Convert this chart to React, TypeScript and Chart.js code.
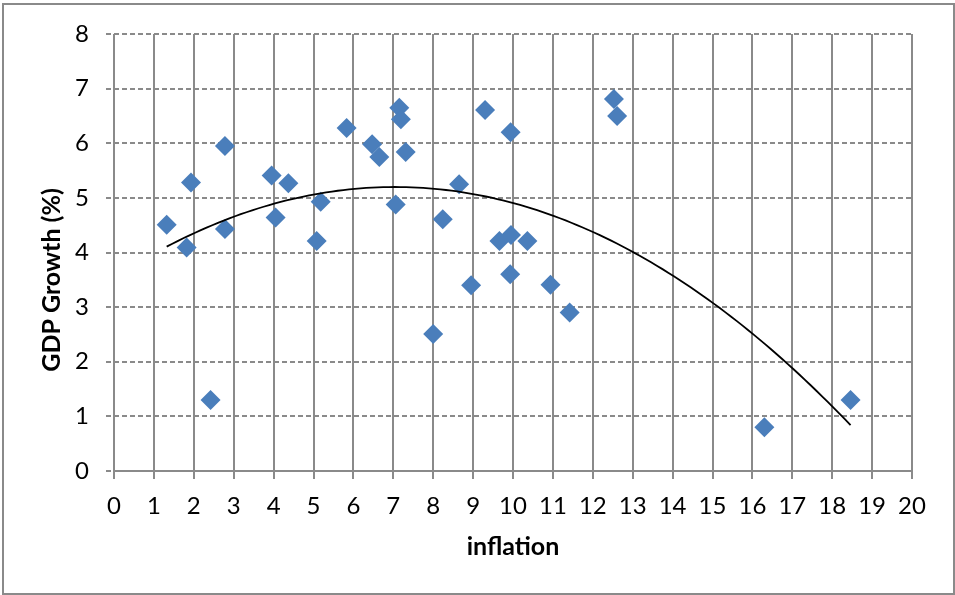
import React, { useEffect, useRef } from 'react';
import { Chart, registerables } from 'chart.js';

Chart.register(...registerables);

// Data
const inflation = [1.32, 1.82, 1.93, 2.42, 2.78, 2.78, 3.95, 4.05, 4.37, 5.08, 5.18, 5.83, 6.47, 6.65, 7.06, 7.15, 7.19, 7.31, 8.0, 8.24, 8.65, 8.95, 9.3, 9.66, 9.93, 9.94, 9.95, 10.36, 10.94, 11.42, 12.53, 12.61, 16.3, 18.46];
const gdpGrowth = [4.51, 4.09, 5.28, 1.3, 5.95, 4.43, 5.41, 4.64, 5.27, 4.21, 4.93, 6.28, 5.98, 5.75, 4.88, 6.65, 6.44, 5.84, 2.51, 4.61, 5.25, 3.4, 6.61, 4.21, 3.6, 6.2, 4.32, 4.21, 3.41, 2.9, 6.81, 6.5, 0.8, 1.3];
const xTickValues = [0, 1, 2, 3, 4, 5, 6, 7, 8, 9, 10, 11, 12, 13, 14, 15, 16, 17, 18, 19, 20];
const yTickValues = [0, 1, 2, 3, 4, 5, 6, 7, 8];
const xTitle = 'inflation';
const yTitle = 'GDP Growth (%)';

// Least-squares polynomial (order 2) trendline, as in the spreadsheet
function polyFit2(xs: number[], ys: number[]) {
  let s0 = 0, s1 = 0, s2 = 0, s3 = 0, s4 = 0, t0 = 0, t1 = 0, t2 = 0;
  for (let i = 0; i < xs.length; i++) {
    const x = xs[i], y = ys[i];
    s0 += 1; s1 += x; s2 += x * x; s3 += x * x * x; s4 += x * x * x * x;
    t0 += y; t1 += x * y; t2 += x * x * y;
  }
  const M = [
    [s0, s1, s2, t0],
    [s1, s2, s3, t1],
    [s2, s3, s4, t2],
  ];
  for (let c = 0; c < 3; c++) {
    let p = c;
    for (let r = c + 1; r < 3; r++) if (Math.abs(M[r][c]) > Math.abs(M[p][c])) p = r;
    [M[c], M[p]] = [M[p], M[c]];
    for (let r = 0; r < 3; r++) {
      if (r === c) continue;
      const f = M[r][c] / M[c][c];
      for (let k = c; k < 4; k++) M[r][k] -= f * M[c][k];
    }
  }
  return [M[0][3] / M[0][0], M[1][3] / M[1][1], M[2][3] / M[2][2]];
}

const GRID = '#8a8a8a';
const FONT = 'Lato, "Noto Sans", sans-serif';

export default function App() {
  const ref = useRef<HTMLCanvasElement>(null);

  useEffect(() => {
    if (!ref.current) return;
    const [c0, c1, c2] = polyFit2(inflation, gdpGrowth);
    const xMin = Math.min(...inflation);
    const xMax = Math.max(...inflation);
    const trend: { x: number; y: number }[] = [];
    const steps = 120;
    for (let i = 0; i <= steps; i++) {
      const x = xMin + ((xMax - xMin) * i) / steps;
      trend.push({ x, y: c0 + c1 * x + c2 * x * x });
    }
    const points = inflation.map((x, i) => ({ x, y: gdpGrowth[i] }));

    const framePlugin = {
      id: 'frame',
      afterDraw(chart: any) {
        const ctx = chart.ctx;
        ctx.save();
        ctx.strokeStyle = '#8a8a8a';
        ctx.lineWidth = 2;
        ctx.strokeRect(3, 4, 951, 590);
        ctx.fillStyle = '#000';
        ctx.font = `bold 25px ${FONT}`;
        ctx.textAlign = 'center';
        ctx.textBaseline = 'middle';
        ctx.translate(52, 280);
        ctx.rotate(-Math.PI / 2);
        ctx.fillText(yTitle, 0, 0);
        ctx.restore();
      },
    };

    const chart = new Chart(ref.current, {
      type: 'scatter',
      data: {
        datasets: [
          {
            label: 'trend',
            data: trend,
            showLine: true,
            borderColor: '#000',
            borderWidth: 1.8,
            pointRadius: 0,
            tension: 0,
            fill: false,
          },
          {
            label: 'data',
            data: points,
            pointStyle: 'rectRot',
            pointRadius: 10,
            pointBorderWidth: 0,
            backgroundColor: '#4A7EBB',
            borderColor: '#4A7EBB',
          },
        ],
      },
      options: {
        responsive: false,
        animation: false,
        layout: { padding: { left: 0, right: 43, top: 34, bottom: 0 } },
        plugins: {
          legend: { display: false },
          tooltip: { enabled: false },
        },
        scales: {
          x: {
            type: 'linear',
            min: 0,
            max: 20,
            afterFit: (s: any) => { s.height = 124; },
            afterBuildTicks: (s: any) => { s.ticks = xTickValues.map((v) => ({ value: v })); },
            grid: { color: GRID, lineWidth: 2, tickLength: 8, tickColor: GRID },
            border: { display: true, color: GRID, width: 2 },
            ticks: { color: '#000', font: { family: FONT, size: 24 }, padding: 13, maxRotation: 0, autoSkip: false },
            title: { display: true, text: xTitle, color: '#000', font: { family: FONT, size: 25, weight: 'bold' }, padding: { top: 0, bottom: 33 } },
          },
          y: {
            type: 'linear',
            min: 0,
            max: 8,
            afterFit: (s: any) => { s.width = 114; },
            afterBuildTicks: (s: any) => { s.ticks = yTickValues.map((v) => ({ value: v })); },
            grid: { color: GRID, lineWidth: 2, tickLength: 8, tickColor: GRID, tickBorderDash: [5, 3] },
            border: { display: false, dash: [5, 3] },
            ticks: { color: '#000', font: { family: FONT, size: 24 }, padding: 17, autoSkip: false },
            title: { display: false },
          },
        },
      },
      plugins: [framePlugin],
    } as any);
    return () => chart.destroy();
  }, []);

  return (
    <div style={{ position: 'absolute', left: 0, top: 0, width: 955, height: 595, background: '#fff' }}>
      <canvas ref={ref} width={955} height={595} style={{ width: 955, height: 595, display: 'block' }} />
    </div>
  );
}
